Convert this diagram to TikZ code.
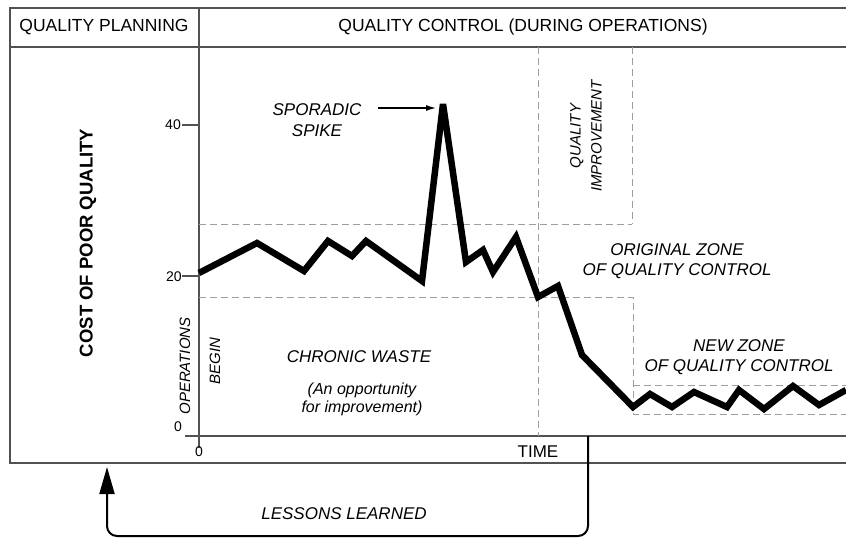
\documentclass[tikz,border=0pt]{standalone}
\usepackage{fontspec}
\setsansfont{Liberation Sans}
\usetikzlibrary{arrows.meta}

\definecolor{framegray}{gray}{0.32}
\definecolor{zonegray}{gray}{0.62}

\begin{document}
\begin{tikzpicture}[x=1pt, y=-1pt, font=\sffamily, every node/.style={inner sep=0pt, outer sep=0pt}, line join=miter, line cap=rect,
  frame/.style={draw=framegray, line width=1.3pt},
  zone/.style={draw=zonegray, line width=1pt, line cap=butt, dash pattern=on 7pt off 4pt},
  head/.style={font=\sffamily\fontsize{17.5}{20}\selectfont},
  tag/.style={font=\sffamily\itshape\fontsize{17}{20.5}\selectfont, align=center},
  small/.style={font=\sffamily\itshape\fontsize{15}{21}\selectfont, align=center},
  num/.style={font=\sffamily\fontsize{14}{15}\selectfont},
  series/.style={line width=6.5pt, line cap=butt, miter limit=2.5}]

    \useasboundingbox (0,0) rectangle (846,538);

    % frame and header
    \draw[frame] (846,8) -- (10,8) -- (10,463) -- (846,463);
    \draw[frame] (10,47) -- (846,47);
    \draw[frame] (199,8) -- (199,447);
    \node[head] (planning) at (104,27) {QUALITY PLANNING};
    \node[head] (control) at (523,27) {QUALITY CONTROL (DURING OPERATIONS)};

    % axes
    \draw[frame] (186,436) -- (846,436);
    \draw[frame] (183,125) -- (199,125);
    \draw[frame] (183,276) -- (199,276);
    \node[num] (y40) at (173,125) {40};
    \node[num] (y20) at (174,277) {20};
    \node[num] (y0) at (178,427) {0};
    \node[num] (x0) at (199,452) {0};
    \node[font=\sffamily\fontsize{17}{20}\selectfont] (time) at (538,452) {TIME};
    \node[rotate=90, font=\sffamily\bfseries\fontsize{18.5}{20}\selectfont] (cost) at (88,243) {COST OF POOR QUALITY};

    % zones
    \draw[zone] (199,224) -- (632,224);
    \draw[zone] (199,297) -- (633,297) -- (633,414) -- (846,414);
    \draw[zone] (633,385) -- (846,385);
    \draw[zone] (538,47) -- (538,436);
    \draw[zone] (632,47) -- (632,224);

    % cost curve
    \coordinate (peak) at (443,104);
    \draw[series] (199,273) -- (257,243) -- (304,271) -- (328,241) -- (352,256) -- (366,241) -- (422,281) -- (peak) -- (466,262) -- (483,250) -- (493,272) -- (516,237) -- (538,297) -- (558,286) -- (582,355) -- (633,407) -- (650,394) -- (672,407) -- (694,392) -- (727,407) -- (739,390) -- (764,409) -- (793,386) -- (819,405) -- (846,390);

    % labels
    \node[tag] (spike) at (317,120) {SPORADIC\\SPIKE};
    \coordinate (spiketail) at (379,108);
    \draw[-{Latex[length=10pt,width=6pt]}, line width=1.2pt, shorten >=7pt] (spiketail) -- (peak |- spiketail);
    \node[tag] (chronic) at (359,357) {CHRONIC WASTE};
    \node[font=\sffamily\itshape\fontsize{16}{18}\selectfont, align=center] (chance) at (362,399) {(An opportunity\\for improvement)};
    \node[tag] (original) at (677,261) {ORIGINAL ZONE\\OF QUALITY CONTROL};
    \node[tag] (newzone) at (739,357) {NEW ZONE\\OF QUALITY CONTROL};
    \node[small, rotate=90] (improve) at (586,136) {QUALITY\\IMPROVEMENT};
    \node[small, rotate=90] (operations) at (185,366) {OPERATIONS};
    \node[small, rotate=90] (begin) at (215,361) {BEGIN};

    % feedback loop
    \coordinate (feedback) at (588,436);
    \coordinate (planin) at (107,467);
    \draw[line width=2pt, line cap=butt, rounded corners=10pt, -{Triangle[length=27pt,width=15pt]}] (feedback) -- ++(0,100) -| (planin);
    \node[tag] (lessons) at (344,514) {LESSONS LEARNED};
\end{tikzpicture}
\end{document}
